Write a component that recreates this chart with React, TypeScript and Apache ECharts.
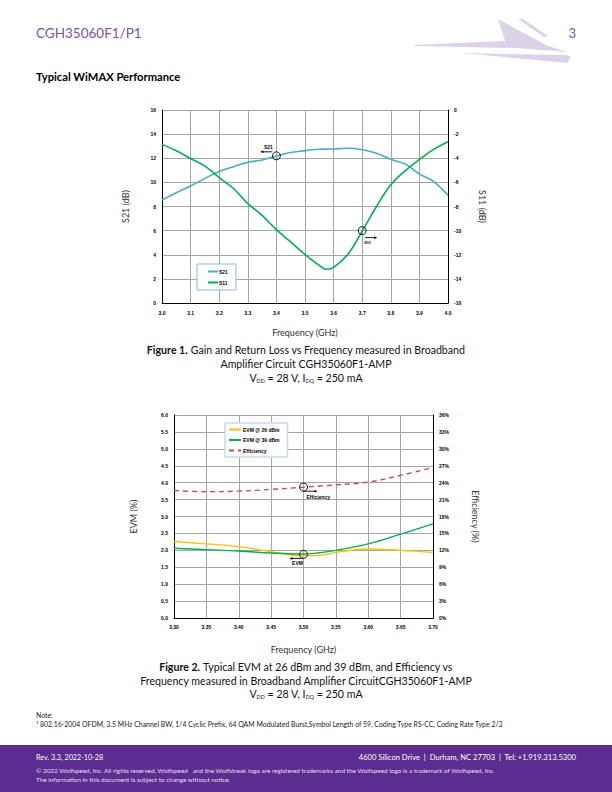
import React, { useEffect, useRef } from "react";
import * as echarts from "echarts";

// ---------- Figure 1 data ----------
const freq1 = [3.0, 3.05, 3.1, 3.15, 3.2, 3.25, 3.3, 3.35, 3.4, 3.45, 3.5, 3.55, 3.575, 3.6, 3.65, 3.7, 3.75, 3.8, 3.85, 3.9, 3.95, 4.0];
const s21 = [8.53, 9.14, 9.7, 10.33, 10.9, 11.3, 11.66, 11.86, 12.19, 12.47, 12.63, 12.74, 12.76, 12.77, 12.83, 12.71, 12.41, 11.91, 11.52, 10.69, 10.06, 8.92];
const s11 = [-2.85, -3.38, -4.02, -4.65, -5.6, -6.51, -7.76, -8.73, -9.92, -10.94, -11.97, -12.88, -13.2, -13.05, -11.95, -10.05, -8.0, -6.2, -5.04, -4.1, -3.27, -2.63];

// ---------- Figure 2 data ----------
const freq2 = [3.3, 3.35, 3.4, 3.45, 3.5, 3.525, 3.55, 3.6, 3.65, 3.7];
const evm26 = [2.26, 2.19, 2.11, 1.96, 1.84, 1.85, 1.94, 2.04, 2.0, 1.94];
const evm39 = [2.06, 2.02, 1.98, 1.92, 1.89, 1.93, 2.0, 2.19, 2.48, 2.78];
const efficiency = [22.6, 22.4, 22.5, 22.8, 23.2, 23.4, 23.6, 24.1, 25.3, 26.7];

const SANS = "Lato";
const TICK = "Liberation Sans";

const pairs = (xs: number[], ys: number[]) => xs.map((x, i) => [x, ys[i]]);

export default function App() {
  const ref = useRef<HTMLDivElement>(null);
  useEffect(() => {
    if (!ref.current) return;
    const chart = echarts.init(ref.current, undefined, { renderer: "svg", width: 612, height: 792 });

    const gridLine = { show: true, lineStyle: { color: "#a6a6a6", width: 1 } };
    const tickLabel = { fontFamily: TICK, fontWeight: "bold" as const, fontSize: 5, color: "#000" };
    const axisName = { fontFamily: SANS, fontSize: 9, color: "#333" };

    chart.setOption({
      animation: false,
      backgroundColor: "#fff",
      grid: [
        { left: 162, top: 110, width: 286, height: 193 },
        { left: 174, top: 415, width: 259, height: 203 },
      ],
      xAxis: [
        {
          type: "value", gridIndex: 0, min: 3.0, max: 4.0, interval: 0.1,
          axisLine: { lineStyle: { color: "#000", width: 1 } }, axisTick: { show: false },
          axisLabel: { ...tickLabel, margin: 7, formatter: (v: number) => v.toFixed(1) },
          splitLine: gridLine,
          name: "Frequency (GHz)", nameLocation: "middle", nameGap: 25, nameTextStyle: axisName,
        },
        {
          type: "value", gridIndex: 1, min: 3.3, max: 3.7, interval: 0.05,
          axisLine: { lineStyle: { color: "#000", width: 1 } }, axisTick: { show: false },
          axisLabel: { ...tickLabel, margin: 6, formatter: (v: number) => v.toFixed(2) },
          splitLine: gridLine,
          name: "Frequency (GHz)", nameLocation: "middle", nameGap: 27, nameTextStyle: axisName,
        },
      ],
      yAxis: [
        {
          type: "value", gridIndex: 0, min: 0, max: 16, interval: 2, position: "left",
          axisLine: { show: true, lineStyle: { color: "#000" } }, axisTick: { show: false },
          axisLabel: { ...tickLabel, margin: 6 }, splitLine: gridLine,
          name: "S21 (dB)", nameLocation: "middle", nameGap: 32, nameRotate: 90, nameTextStyle: axisName,
        },
        {
          type: "value", gridIndex: 0, min: -16, max: 0, interval: 2, position: "right",
          axisLine: { show: true, lineStyle: { color: "#000" } }, axisTick: { show: false },
          axisLabel: { ...tickLabel, margin: 6 }, splitLine: { show: false },
          name: "S11 (dB)", nameLocation: "middle", nameGap: 30, nameRotate: -90, nameTextStyle: axisName,
        },
        {
          type: "value", gridIndex: 1, min: 0, max: 6, interval: 0.5, position: "left",
          axisLine: { show: true, lineStyle: { color: "#000" } }, axisTick: { show: false },
          axisLabel: { ...tickLabel, margin: 6, formatter: (v: number) => v.toFixed(1) }, splitLine: gridLine,
          name: "EVM (%)", nameLocation: "middle", nameGap: 36, nameRotate: 90, nameTextStyle: axisName,
        },
        {
          type: "value", gridIndex: 1, min: 0, max: 36, interval: 3, position: "right",
          axisLine: { show: true, lineStyle: { color: "#000" } }, axisTick: { show: false },
          axisLabel: { ...tickLabel, margin: 6, formatter: "{value}%" }, splitLine: { show: false },
          name: "Efficiency (%)", nameLocation: "middle", nameGap: 38, nameRotate: -90, nameTextStyle: axisName,
        },
      ],
      legend: [
        {
          data: ["S21", "S11"], left: 197, top: 264, orient: "vertical",
          padding: [5, 8, 5, 10], itemGap: 6, itemWidth: 10, itemHeight: 6,
          borderColor: "#8eb4e3", borderWidth: 1, backgroundColor: "#fff",
          itemStyle: { opacity: 0 },
          textStyle: { fontFamily: TICK, fontWeight: "bold", fontSize: 5, color: "#000", padding: [0, 0, 0, -4] },
        },
        {
          data: ["EVM @ 26 dBm", "EVM @ 39 dBm", "Efficiency"], left: 225, top: 423, orient: "vertical",
          padding: [4, 8, 4, 3], itemGap: 5.5, itemWidth: 12, itemHeight: 6,
          borderColor: "#c6d9f1", borderWidth: 1.5, backgroundColor: "#fff",
          itemStyle: { opacity: 0 },
          textStyle: { fontFamily: TICK, fontWeight: "bold", fontSize: 5, color: "#000", padding: [0, 0, 0, -3] },
        },
      ],
      series: [
        { name: "S21", type: "line", xAxisIndex: 0, yAxisIndex: 0, data: pairs(freq1, s21), smooth: 0.4, symbol: "none", lineStyle: { color: "#4bacc6", width: 1.6 }, itemStyle: { color: "#4bacc6" } },
        { name: "S11", type: "line", xAxisIndex: 0, yAxisIndex: 1, data: pairs(freq1, s11), smooth: 0.4, symbol: "none", lineStyle: { color: "#00b050", width: 1.6 }, itemStyle: { color: "#00b050" } },
        { name: "EVM @ 26 dBm", type: "line", xAxisIndex: 1, yAxisIndex: 2, data: pairs(freq2, evm26), smooth: 0.4, symbol: "none", lineStyle: { color: "#ffc000", width: 1.4 }, itemStyle: { color: "#ffc000" } },
        { name: "EVM @ 39 dBm", type: "line", xAxisIndex: 1, yAxisIndex: 2, data: pairs(freq2, evm39), smooth: 0.4, symbol: "none", lineStyle: { color: "#00b050", width: 1.4 }, itemStyle: { color: "#00b050" } },
        { name: "Efficiency", type: "line", xAxisIndex: 1, yAxisIndex: 3, data: pairs(freq2, efficiency), smooth: 0.4, symbol: "none", lineStyle: { color: "#c0504d", width: 1.4, type: [5, 4] }, itemStyle: { color: "#c0504d" } },
      ],
    });

    // annotation helpers
    const px = (xi: number, yi: number, v: number[]) => chart.convertToPixel({ xAxisIndex: xi, yAxisIndex: yi }, v) as number[];
    const circle = (c: number[]) => ({ type: "circle", shape: { cx: c[0], cy: c[1], r: 4 }, style: { fill: "none", stroke: "#000", lineWidth: 0.9 }, z: 50 });
    const arrow = (x1: number, x2: number, y: number) => {
      const dir = x2 > x1 ? 1 : -1;
      return [
        { type: "line", shape: { x1, y1: y, x2: x2 - dir * 2, y2: y }, style: { stroke: "#000", lineWidth: 0.9 }, z: 50 },
        { type: "polygon", shape: { points: [[x2, y], [x2 - dir * 3, y - 1.3], [x2 - dir * 3, y + 1.3]] }, style: { fill: "#000" }, z: 50 },
      ];
    };
    const small = (x: number, y: number, t: string, align: string, size = 5) => ({
      type: "text", x, y, z: 50,
      style: { text: t, fontFamily: TICK, fontWeight: "bold", fontSize: size, fill: "#000", align, verticalAlign: "middle" },
    });

    const a1 = px(0, 0, [3.4, 12.2]);
    const a2 = px(0, 1, [3.7, -10]);
    const a3 = px(1, 3, [3.5, 23.2]);
    const a4 = px(1, 2, [3.5, 1.88]);

    const ann: any[] = [
      circle(a1), ...arrow(a1[0] - 4, a1[0] - 16, a1[1] - 4), small(a1[0] - 8, a1[1] - 9, "S21", "center"),
      circle(a2), ...arrow(a2[0] + 3, a2[0] + 15, a2[1] + 7), small(a2[0] + 2, a2[1] + 12, "S11", "left", 4),
      circle(a3), ...arrow(a3[0], a3[0] + 14, a3[1] + 4), small(a3[0] + 3, a3[1] + 10, "Efficiency", "left"),
      circle(a4), ...arrow(a4[0] - 1, a4[0] - 14, a4[1] + 4), small(a4[0] - 6, a4[1] + 9, "EVM", "center"),
    ];

    const purple = "#5c2d91";
    const txt = (x: number, y: number, text: string, size: number, fill: string, extra: any = {}) => ({
      type: "text", x, y,
      style: { text, fontFamily: SANS, fontSize: size, fill, verticalAlign: "middle", ...extra },
    });
    const CAP = 10.6;
    const subRich = {
      b: { fontFamily: SANS, fontSize: CAP, fontWeight: "bold", fill: "#111" },
      n: { fontFamily: SANS, fontSize: CAP, fill: "#111" },
      s: { fontFamily: SANS, fontSize: 5.3, fill: "#111", verticalAlign: "bottom", padding: [4, 0, 0, 0] },
    };
    const caption = (y: number, text: string) => ({
      type: "text", x: 306, y,
      style: { text, fontFamily: SANS, fontSize: CAP, fill: "#111", align: "center", verticalAlign: "middle", rich: subRich },
    });

    const logoColor = "#dcd3e8";
    const statics: any[] = [
      txt(36, 33, "CGH35060F1/P1", 13.5, "#7b52a8"),
      txt(576, 33, "3", 13, "#7b52a8", { align: "right" }),
      { type: "polygon", shape: { points: [[414, 45], [505, 41], [498, 19], [548, 46], [567, 52], [515, 48], [414, 46]] }, style: { fill: logoColor } },
      { type: "polygon", shape: { points: [[462, 53], [566, 55], [571, 57], [567, 63]] }, style: { fill: logoColor } },
      { type: "polygon", shape: { points: [[518, 19], [523, 19], [548, 36], [544, 37]] }, style: { fill: logoColor } },
      txt(36, 76, "Typical WiMAX Performance", 11.2, "#000", { fontWeight: "bold" }),

      caption(350, "{b|Figure 1.}{n| Gain and Return Loss vs Frequency measured in Broadband}"),
      caption(364, "{n|Amplifier Circuit CGH35060F1-AMP}"),
      caption(378, "{n|V}{s|DD}{n| = 28 V, I}{s|DQ}{n| = 250 mA}"),

      caption(667, "{b|Figure 2.}{n| Typical EVM at 26 dBm and 39 dBm, and Efficiency vs}"),
      caption(681, "{n|Frequency measured in Broadband Amplifier CircuitCGH35060F1-AMP}"),
      caption(694, "{n|V}{s|DD}{n| = 28 V, I}{s|DQ}{n| = 250 mA}"),

      txt(36, 715, "Note:", 6.9, "#222"),
      txt(36, 724, "¹ 802.16-2004 OFDM, 3.5 MHz Channel BW, 1/4 Cyclic Prefix, 64 QAM Modulated Burst,Symbol Length of 59, Coding Type RS-CC, Coding Rate Type 2/3", 6.9, "#222"),

      { type: "rect", shape: { x: 0, y: 745, width: 612, height: 47 }, style: { fill: purple } },
      txt(36, 757, "Rev. 3.3, 2022-10-28", 7.2, "#fff"),
      txt(576, 757, "4600 Silicon Drive  |  Durham, NC 27703  |  Tel: +1.919.313.5300", 7.6, "#fff", { align: "right" }),
      txt(36, 770, "© 2022 Wolfspeed, Inc. All rights reserved. Wolfspeed   and the Wolfstreak logo are registered trademarks and the Wolfspeed logo is a trademark of Wolfspeed, Inc.", 6.4, "#e6dcf0"),
      txt(36, 779.5, "The information in this document is subject to change without notice.", 6.4, "#e6dcf0"),
    ];

    chart.setOption({ graphic: [...statics, ...ann] });

    return () => chart.dispose();
  }, []);

  return <div ref={ref} style={{ position: "absolute", left: 0, top: 0, width: 612, height: 792 }} />;
}
